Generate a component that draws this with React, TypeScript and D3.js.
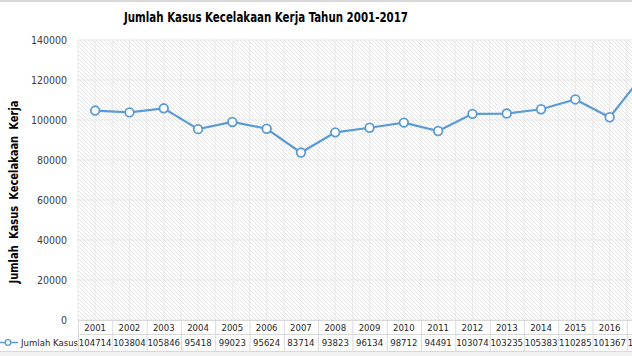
import React from "react";
import * as d3 from "d3";

const years = ["2001","2002","2003","2004","2005","2006","2007","2008","2009","2010","2011","2012","2013","2014","2015","2016","2017"];
const cases = [104714,103804,105846,95418,99023,95624,83714,93823,96134,98712,94491,103074,103235,105383,110285,101367,123041];
const yTicks = [0,20000,40000,60000,80000,100000,120000,140000];
const seriesName = "Jumlah Kasus";
const chartTitle = "Jumlah Kasus Kecelakaan Kerja Tahun 2001-2017";
const yTitle = "Jumlah Kasus Kecelakaan Kerja";

const W = 632, H = 356;
const left = 78, step = 34.3;
const top = 40, bottom = 320;
const font = "'DejaVu Sans Condensed', 'Liberation Sans', sans-serif";

export default function App() {
  const x = d3.scaleBand<string>().domain(years).range([left, left + step * years.length]).padding(0);
  const y = d3.scaleLinear().domain([0, 140000]).range([bottom, top]);
  const line = d3.line<number>().x((_, i) => (x(years[i]) as number) + x.bandwidth() / 2).y(d => y(d));
  const bw = x.bandwidth();
  const plotRight = left + step * years.length;
  const grid: number[] = [];
  years.forEach(yr => { const s = x(yr) as number; grid.push(s, s + bw / 2); });
  grid.push(plotRight);

  return (
    <svg width={W} height={H} style={{ position: "absolute", left: 0, top: 0, display: "block" }}>
      <defs>
        <pattern id="hatch" patternUnits="userSpaceOnUse" width="4" height="4">
          <rect width="4" height="4" fill="#ffffff" />
          <path d="M-1,-1 L5,5 M-1,3 L1,5 M3,-1 L5,1" stroke="#e4e4e4" strokeWidth="1" />
        </pattern>
        <clipPath id="clip"><rect x={0} y={0} width={W} height={H} /></clipPath>
      </defs>
      <rect width={W} height={H} fill="#ffffff" />
      <rect x={0} y={0} width={W} height={2} fill="#d9d9d9" />
      <rect x={0} y={352} width={W} height={4} fill="#f2f2f2" />
      <line x1={0} x2={W} y1={351.5} y2={351.5} stroke="#d9d9d9" />
      <text x={266} y={22} textAnchor="middle" fontFamily={font} fontWeight="bold" fontSize={14.5} fill="#000" textLength={284} lengthAdjust="spacingAndGlyphs">{chartTitle}</text>
      <rect x={left} y={top} width={plotRight - left} height={bottom - top} fill="url(#hatch)" />
      {yTicks.map(t => (
        <line key={"h" + t} x1={left} x2={plotRight} y1={y(t)} y2={y(t)} stroke="#e6e6e6" strokeWidth={1.2} />
      ))}
      {grid.map((g, i) => (
        <line key={"v" + i} x1={g} x2={g} y1={top} y2={bottom} stroke="#ebebeb" strokeWidth={1.2} />
      ))}
      {yTicks.map(t => (
        <text key={"t" + t} x={67} y={y(t) + 4} textAnchor="end" fontFamily={font} fontSize={10.5} fill="#404040">{t}</text>
      ))}
      <text transform={`translate(18,${(top + bottom) / 2 + 12}) rotate(-90)`} textAnchor="middle" fontFamily={font} fontWeight="bold" fontSize={12} fill="#000" wordSpacing={3} textLength={183} lengthAdjust="spacingAndGlyphs">{yTitle}</text>
      <path d={line(cases) || ""} fill="none" stroke="#5b9bd5" strokeWidth={2.2} />
      {cases.map((c, i) => (
        <circle key={"c" + i} cx={(x(years[i]) as number) + bw / 2} cy={y(c)} r={4.3} fill="#fff" stroke="#5b9bd5" strokeWidth={1.8} />
      ))}
      {/* data table */}
      <line x1={left} x2={W} y1={334.5} y2={334.5} stroke="#d9d9d9" />
      <line x1={left} x2={W} y1={320.5} y2={320.5} stroke="#d9d9d9" />
      {years.map(yr => (
        <line key={"s" + yr} x1={(x(yr) as number) + 0.5} x2={(x(yr) as number) + 0.5} y1={320} y2={351} stroke="#d9d9d9" />
      ))}
      {years.map(yr => (
        <text key={"y" + yr} x={(x(yr) as number) + bw / 2} y={330.5} textAnchor="middle" fontFamily={font} fontSize={9.5} fill="#262626">{yr}</text>
      ))}
      {cases.map((c, i) => (
        <text key={"n" + i} x={(x(years[i]) as number) + bw / 2} y={346} textAnchor="middle" fontFamily={font} fontSize={9.5} fill="#262626">{c}</text>
      ))}
      <line x1={0} x2={18} y1={342.5} y2={342.5} stroke="#5b9bd5" strokeWidth={1.5} />
      <circle cx={8} cy={342.5} r={2.8} fill="#fff" stroke="#5b9bd5" strokeWidth={1.3} />
      <text x={21} y={346} fontFamily={font} fontSize={9.5} fill="#262626">{seriesName}</text>
    </svg>
  );
}
